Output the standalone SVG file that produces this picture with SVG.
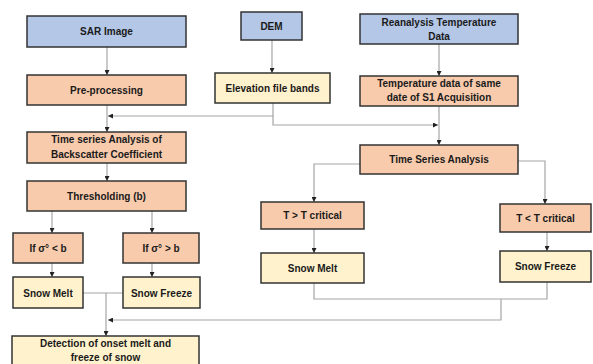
<svg xmlns="http://www.w3.org/2000/svg" width="593" height="364" viewBox="0 0 593 364">
<defs>
<marker id="ah" viewBox="0 0 6 6" refX="6" refY="3" markerWidth="5" markerHeight="5" orient="auto" markerUnits="userSpaceOnUse">
<path d="M0,0 L6,3 L0,6 Z" fill="#222"/>
</marker>
<style>
.n rect{stroke:#333;stroke-width:1.5}
.b{fill:#b4c7e7}.s{fill:#f8cbad}.c{fill:#fff2cc}
text{font-family:"Liberation Sans",Arial,sans-serif;font-weight:bold;font-size:10px;fill:#1a1a1a;text-anchor:middle}
.e path{fill:none;stroke:#a6a6a6;stroke-width:1.2}
.e .a{marker-end:url(#ah)}
</style>
</defs>
<rect width="593" height="364" fill="#fff"/>
<g class="e">
<path class="a" d="M107,47 V75"/>
<path class="a" d="M272,40 V73"/>
<path class="a" d="M107,105 V132"/>
<path class="a" d="M107,163 V181"/>
<path class="a" d="M273,103 V116 H108"/>
<path class="a" d="M273,116 V125 H438"/>
<path class="a" d="M439,44 V76"/>
<path class="a" d="M439,106 V145"/>
<path class="a" d="M360,164 H314 V202"/>
<path class="a" d="M518,161 H545 V204"/>
<path class="a" d="M314,229 V253"/>
<path class="a" d="M547,232 V251"/>
<path d="M314,283 V299 H547 V282"/>
<path class="a" d="M501,299 V320 H108"/>
<path class="a" d="M52,211 V233"/>
<path class="a" d="M152,211 V233"/>
<path class="a" d="M52,263 V277"/>
<path class="a" d="M152,263 V277"/>
<path d="M83,293 H123"/>
<path class="a" d="M106,293 V336"/>
</g>
<g id="sar" class="n"><rect class="b" x="27" y="16" width="159" height="31"/><text x="106.5" y="35">SAR Image</text></g>
<g id="dem" class="n"><rect class="b" x="241" y="12" width="61" height="28"/><text x="271.5" y="30">DEM</text></g>
<g id="rean" class="n"><rect class="b" x="360" y="14" width="158" height="30"/><text x="439" y="26">Reanalysis Temperature</text><text x="439" y="40">Data</text></g>
<g id="pre" class="n"><rect class="s" x="27" y="75" width="159" height="30"/><text x="106.5" y="94">Pre-processing</text></g>
<g id="elev" class="n"><rect class="c" x="215" y="73" width="115" height="30"/><text x="272.5" y="92">Elevation file bands</text></g>
<g id="temp" class="n"><rect class="s" x="360" y="76" width="158" height="30"/><text x="439" y="87">Temperature data of same</text><text x="439" y="101">date of S1 Acquisition</text></g>
<g id="tsab" class="n"><rect class="s" x="27" y="132" width="159" height="31"/><text x="106.5" y="143">Time series Analysis of</text><text x="106.5" y="158">Backscatter Coefficient</text></g>
<g id="tsa" class="n"><rect class="s" x="360" y="145" width="158" height="29"/><text x="439" y="163">Time Series Analysis</text></g>
<g id="thr" class="n"><rect class="s" x="27" y="181" width="159" height="30"/><text x="106.5" y="200">Thresholding (b)</text></g>
<g id="iflt" class="n"><rect class="s" x="13" y="233" width="70" height="30"/><text x="48" y="252">If σ° &lt; b</text></g>
<g id="ifgt" class="n"><rect class="s" x="123" y="233" width="76" height="30"/><text x="161" y="252">If σ° &gt; b</text></g>
<g id="tgt" class="n"><rect class="s" x="261" y="202" width="103" height="27"/><text x="312.5" y="219">T &gt; T critical</text></g>
<g id="tlt" class="n"><rect class="s" x="500" y="204" width="91" height="28"/><text x="545.5" y="222">T &lt; T critical</text></g>
<g id="sm1" class="n"><rect class="c" x="13" y="277" width="70" height="31"/><text x="48" y="297">Snow Melt</text></g>
<g id="sf1" class="n"><rect class="c" x="123" y="277" width="77" height="31"/><text x="161.5" y="297">Snow Freeze</text></g>
<g id="sm2" class="n"><rect class="c" x="261" y="253" width="103" height="30"/><text x="312.5" y="272">Snow Melt</text></g>
<g id="sf2" class="n"><rect class="c" x="500" y="251" width="91" height="31"/><text x="545.5" y="270">Snow Freeze</text></g>
<g id="det" class="n"><rect class="c" x="12" y="336" width="187" height="32"/><text x="105.5" y="347">Detection of onset melt and</text><text x="105.5" y="361">freeze of snow</text></g>
</svg>
